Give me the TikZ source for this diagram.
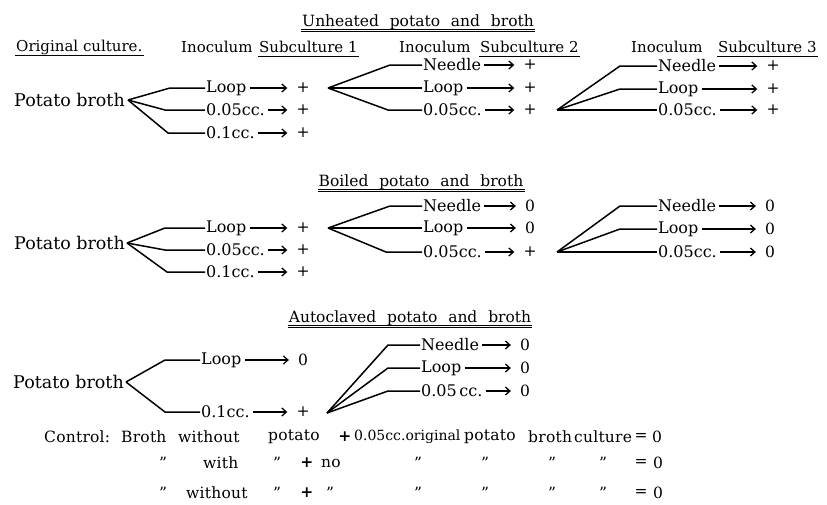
\documentclass[tikz,border=0pt]{standalone}
\usepackage{fontspec}
\setmainfont{DejaVu Serif}
\usetikzlibrary{arrows.meta}
\begin{document}
\begin{tikzpicture}[x=1pt,y=-1pt,
  txt/.style={inner sep=1pt, font=\fontsize{16}{18}\selectfont},
  lab/.style={txt, anchor=west},
  res/.style={inner sep=1pt, font=\fontsize{15.5}{17}\selectfont},
  hdr/.style={inner sep=1pt, anchor=west, font=\fontsize{15}{17}\selectfont},
  ttl/.style={inner sep=1pt, font=\fontsize{15.5}{17}\selectfont},
  pbr/.style={inner sep=1pt, anchor=west, font=\fontsize{17.5}{19}\selectfont},
  ctl/.style={inner sep=1pt, font=\fontsize{15.5}{18}\selectfont\addfontfeature{LetterSpace=1.5}},
  cw/.style={ctl, anchor=west},
  br/.style={line width=1.5pt},
  arr/.style={line width=1.1pt, -{Straight Barb[length=4.5pt,width=8pt,line width=1.3pt]}, shorten >=8pt, shorten <=2pt},
  ul/.style={line width=0.9pt},
]
\useasboundingbox (0,0) rectangle (827,504);

% ---------- titles ----------
\node[ttl] (t1) at (418,22) {Unheated\hspace{0.7em}potato\hspace{0.7em}and\hspace{0.7em}broth};
\node[ttl] (t2) at (421,182) {Boiled\hspace{0.7em}potato\hspace{0.7em}and\hspace{0.7em}broth};
\node[ttl] (t3) at (410,318) {Autoclaved\hspace{0.7em}potato\hspace{0.7em}and\hspace{0.7em}broth};
\foreach \t in {t1,t2,t3}{
  \draw[ul] ([yshift=-3.5pt]\t.base west) -- ([yshift=-3.5pt]\t.base east);
  \draw[line width=0.6pt] ([yshift=-5.5pt]\t.base west) -- ([yshift=-5.5pt]\t.base east);
}

% ---------- headers ----------
\node[hdr] (h0) at (15,47) {Original culture.};
\node[hdr] (i1) at (180,47) {Inoculum};
\node[hdr] (s1) at (258,47) {Subculture 1};
\node[hdr] (i2) at (398,47) {Inoculum};
\node[hdr] (s2) at (479,47) {Subculture 2};
\node[hdr] (i3) at (630,47) {Inoculum};
\node[hdr] (s3) at (717,47) {Subculture 3};
\foreach \h in {h0,s1,s2,s3}{
  \draw[ul] ([yshift=-4pt]\h.base west) -- ([yshift=-4pt]\h.base east);
}

% ================= Section 1 =================
\node[pbr] (pb1) at (13,100) {Potato broth};
\coordinate (o1) at (128,100);
\node[lab] (a1) at (205,88) {Loop};
\node[lab] (a2) at (205,110) {0.05cc.};
\node[lab] (a3) at (205,133) {0.1cc.};
\node[res] (ra1) at (303,88) {+};
\node[res] (ra2) at (303,110) {+};
\node[res] (ra3) at (303,133) {+};
\coordinate (ba1) at (170,88);
\coordinate (ba2) at (165,110);
\coordinate (ba3) at (168,133);
\draw[br] (o1) -- (ba1) -- (a1.west);
\draw[br] (o1) -- (ba2) -- (a2.west);
\draw[br] (o1) -- (ba3) -- (a3.west);
\foreach \i in {1,2,3}{\draw[arr] (a\i.east) -- (ra\i.west);}

\coordinate (o2) at (328,88);
\node[lab] (b1) at (422,65) {Needle};
\node[lab] (b2) at (422,88) {Loop};
\node[lab] (b3) at (422,110) {0.05cc.};
\node[res] (rb1) at (530,65) {+};
\node[res] (rb2) at (530,88) {+};
\node[res] (rb3) at (530,110) {+};
\coordinate (bb1) at (390,65);
\coordinate (bb3) at (388,110);
\draw[br] (o2) -- (bb1) -- (b1.west);
\draw[br] (o2) -- (b2.west);
\draw[br] (o2) -- (bb3) -- (b3.west);
\foreach \i in {1,2,3}{\draw[arr] (b\i.east) -- (rb\i.west);}

\coordinate (o3) at (557,110);
\node[lab] (c1) at (657,66) {Needle};
\node[lab] (c2) at (657,89) {Loop};
\node[lab] (c3) at (657,110) {0.05cc.};
\node[res] (rc1) at (773,66) {+};
\node[res] (rc2) at (773,89) {+};
\node[res] (rc3) at (773,110) {+};
\coordinate (bc1) at (620,66);
\coordinate (bc2) at (620,89);
\draw[br] (o3) -- (bc1) -- (c1.west);
\draw[br] (o3) -- (bc2) -- (c2.west);
\draw[br] (o3) -- (c3.west);
\foreach \i in {1,2,3}{\draw[arr] (c\i.east) -- (rc\i.west);}

% ================= Section 2 =================
\node[pbr] (pb2) at (13,243) {Potato broth};
\coordinate (p1) at (127,243);
\node[lab] (d1) at (205,228) {Loop};
\node[lab] (d2) at (205,250) {0.05cc.};
\node[lab] (d3) at (205,272) {0.1cc.};
\node[res] (rd1) at (303,228) {+};
\node[res] (rd2) at (303,250) {+};
\node[res] (rd3) at (303,272) {+};
\coordinate (bd1) at (165,228);
\coordinate (bd2) at (165,250);
\coordinate (bd3) at (167,272);
\draw[br] (p1) -- (bd1) -- (d1.west);
\draw[br] (p1) -- (bd2) -- (d2.west);
\draw[br] (p1) -- (bd3) -- (d3.west);
\foreach \i in {1,2,3}{\draw[arr] (d\i.east) -- (rd\i.west);}

\coordinate (p2) at (328,228);
\node[lab] (e1) at (422,206) {Needle};
\node[lab] (e2) at (422,228) {Loop};
\node[lab] (e3) at (422,252) {0.05cc.};
\node[res] (re1) at (530,206) {0};
\node[res] (re2) at (530,228) {0};
\node[res] (re3) at (530,252) {+};
\coordinate (be1) at (390,206);
\coordinate (be3) at (386,252);
\draw[br] (p2) -- (be1) -- (e1.west);
\draw[br] (p2) -- (e2.west);
\draw[br] (p2) -- (be3) -- (e3.west);
\foreach \i in {1,2,3}{\draw[arr] (e\i.east) -- (re\i.west);}

\coordinate (p3) at (557,252);
\node[lab] (f1) at (657,206) {Needle};
\node[lab] (f2) at (657,229) {Loop};
\node[lab] (f3) at (657,252) {0.05cc.};
\node[res] (rf1) at (770,206) {0};
\node[res] (rf2) at (770,229) {0};
\node[res] (rf3) at (770,252) {0};
\coordinate (bf1) at (620,206);
\coordinate (bf2) at (620,229);
\draw[br] (p3) -- (bf1) -- (f1.west);
\draw[br] (p3) -- (bf2) -- (f2.west);
\draw[br] (p3) -- (f3.west);
\foreach \i in {1,2,3}{\draw[arr] (f\i.east) -- (rf\i.west);}

% ================= Section 3 =================
\node[pbr] (pb3) at (12,382) {Potato broth};
\coordinate (q1) at (126,382);
\node[lab] (g1) at (200,360) {Loop};
\node[lab] (g2) at (200,412) {0.1cc.};
\node[res] (rg1) at (303,360) {0};
\node[res] (rg2) at (303,412) {+};
\coordinate (bg1) at (165,360);
\coordinate (bg2) at (165,412);
\draw[br] (q1) -- (bg1) -- (g1.west);
\draw[br] (q1) -- (bg2) -- (g2.west);
\foreach \i in {1,2}{\draw[arr] (g\i.east) -- (rg\i.west);}

\coordinate (q2) at (327,413);
\node[lab] (k1) at (420,345) {Needle};
\node[lab] (k2) at (420,368) {Loop};
\node[lab] (k3) at (420,391) {0.05\,cc.};
\node[res] (rk1) at (525,345) {0};
\node[res] (rk2) at (525,368) {0};
\node[res] (rk3) at (525,391) {0};
\coordinate (bk1) at (388,345);
\coordinate (bk2) at (388,368);
\coordinate (bk3) at (388,391);
\draw[br] (q2) -- (bk1) -- (k1.west);
\draw[br] (q2) -- (bk2) -- (k2.west);
\draw[br] (q2) -- (bk3) -- (k3.west);
\foreach \i in {1,2,3}{\draw[arr] (k\i.east) -- (rk\i.west);}

% ================= Control =================
\node[cw] (w1) at (43,437) {Control:};
\node[cw] (w2) at (120,437) {Broth};
\node[cw] (w3) at (177,437) {without};
\node[cw] (w4) at (267,437) {potato};
\node[ctl] (w5) at (345,437) {\textbf{+}};
\node[inner sep=1pt, anchor=west, font=\fontsize{14}{16}\selectfont] (w6) at (353,437) {0.05cc.original};
\node[cw] (w8) at (463,437) {potato};
\node[cw] (w9) at (527,437) {broth};
\node[cw] (w10) at (573,437) {culture};
\node[ctl] (w11) at (641,437) {=};
\node[ctl] (w12) at (657,437) {0};

\node[ctl] (x1) at (163,463) {”};
\node[cw] (x2) at (202,463) {with};
\node[ctl] (x3) at (277,463) {”};
\node[ctl] (x4) at (307,463) {\textbf{+}};
\node[cw] (x5) at (320,463) {no};
\node[ctl] (x6) at (418,463) {”};
\node[ctl] (x7) at (485,463) {”};
\node[ctl] (x8) at (552,463) {”};
\node[ctl] (x9) at (603,463) {”};
\node[ctl] (x10) at (641,463) {=};
\node[ctl] (x11) at (658,463) {0};

\node[ctl] (y1) at (163,493) {”};
\node[cw] (y2) at (185,493) {without};
\node[ctl] (y3) at (277,493) {”};
\node[ctl] (y4) at (307,493) {\textbf{+}};
\node[ctl] (y5) at (330,493) {”};
\node[ctl] (y6) at (418,493) {”};
\node[ctl] (y7) at (485,493) {”};
\node[ctl] (y8) at (552,493) {”};
\node[ctl] (y9) at (603,493) {”};
\node[ctl] (y10) at (641,493) {=};
\node[ctl] (y11) at (658,493) {0};
\end{tikzpicture}
\end{document}
